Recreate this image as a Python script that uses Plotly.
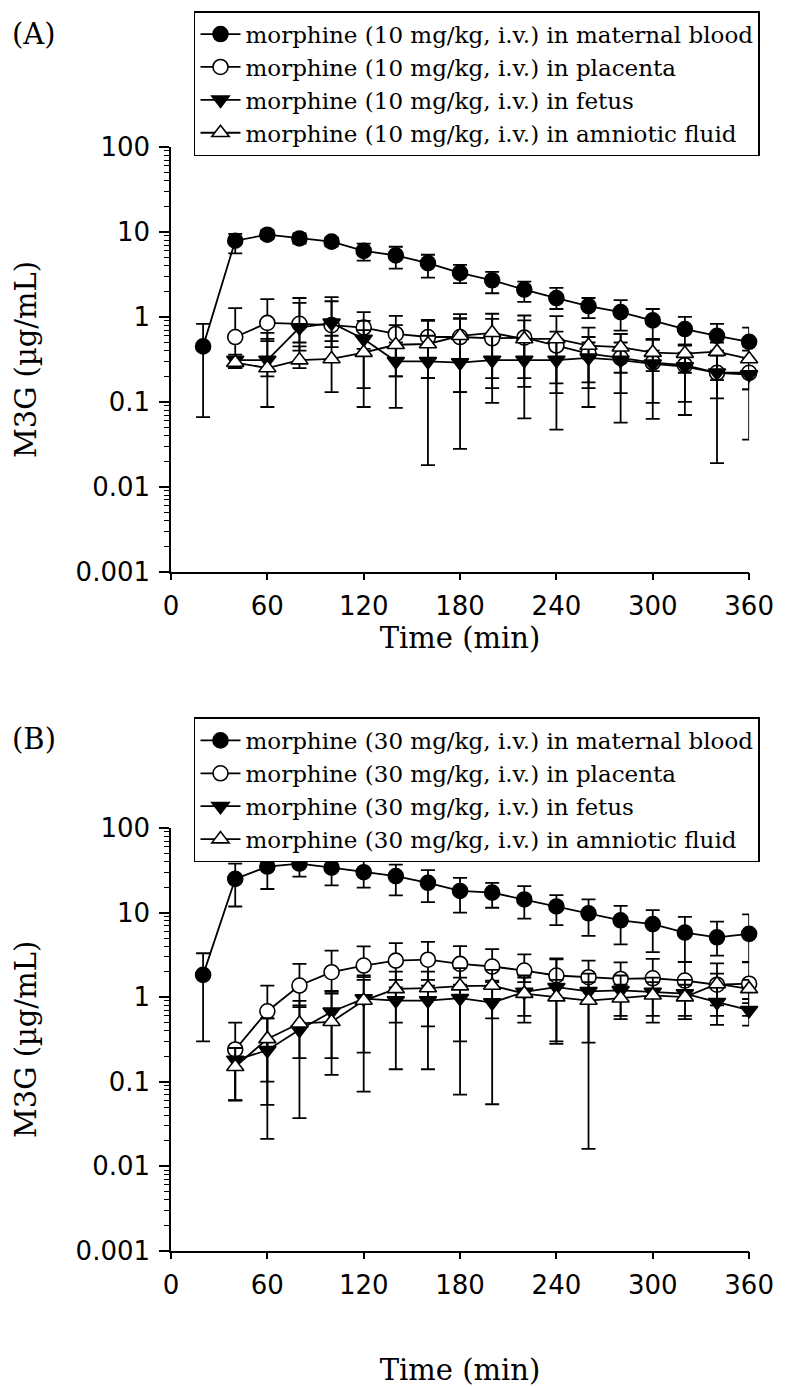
import plotly.graph_objects as go

# ---------------- data ----------------
t_mat = [20, 40, 60, 80, 100, 120, 140, 160, 180, 200, 220, 240, 260, 280, 300, 320, 340, 360]
t_oth = [40, 60, 80, 100, 120, 140, 160, 180, 200, 220, 240, 260, 280, 300, 320, 340, 360]

x_ticks = [0, 60, 120, 180, 240, 300, 360]
y_ticks = [0.001, 0.01, 0.1, 1, 10, 100]
y_ticktext = ["0.001", "0.01", "0.1", "1", "10", "100"]

# Panel A : 10 mg/kg  (mean, upper bar end, lower bar end)
A_mat = [0.45, 7.9, 9.3, 8.4, 7.7, 6.0, 5.3, 4.3, 3.3, 2.7, 2.1, 1.67, 1.34, 1.14, 0.91, 0.72, 0.60, 0.51]
A_mat_up = [0.83, 9.5, 10.5, 9.6, 8.6, 7.3, 6.7, 5.4, 4.1, 3.4, 2.6, 2.2, 1.67, 1.58, 1.24, 1.0, 0.83, 0.75]
A_mat_lo = [0.066, 5.6, 8.3, 7.3, 6.8, 4.6, 3.7, 2.9, 2.5, 1.9, 1.5, 1.24, 0.97, 0.69, 0.55, 0.46, 0.38, 0.33]

A_pla = [0.58, 0.85, 0.83, 0.80, 0.75, 0.63, 0.58, 0.58, 0.56, 0.57, 0.46, 0.37, 0.33, 0.29, 0.27, 0.22, 0.22]
A_pla_up = [1.27, 1.62, 1.67, 1.71, 1.14, 1.03, 0.92, 1.08, 0.95, 0.91, 0.67, 0.58, 0.63, 0.54, 0.47, 0.40, 0.40]
A_pla_lo = [0.26, 0.52, 0.50, 0.44, 0.42, 0.20, 0.19, 0.13, 0.145, 0.15, 0.165, 0.145, 0.127, 0.097, 0.10, 0.11, 0.14]

A_fet = [0.31, 0.31, 0.75, 0.85, 0.55, 0.30, 0.30, 0.29, 0.31, 0.31, 0.31, 0.33, 0.31, 0.28, 0.26, 0.22, 0.21]
A_fet_up = [0.36, 0.65, 1.46, 1.53, 0.90, 0.50, 0.60, 0.97, 0.60, 0.55, 0.55, 0.50, 0.50, 0.40, 0.38, 0.35, 0.30]
A_fet_lo = [0.25, 0.20, 0.40, 0.52, 0.087, 0.085, 0.018, 0.028, 0.097, 0.064, 0.047, 0.087, 0.057, 0.063, 0.07, 0.019, 0.036]

A_amn = [0.29, 0.25, 0.31, 0.32, 0.38, 0.47, 0.48, 0.60, 0.65, 0.55, 0.55, 0.46, 0.44, 0.38, 0.37, 0.39, 0.32]
A_amn_up = [0.33, 0.55, 0.45, 0.60, 0.70, 0.80, 0.90, 0.95, 1.09, 1.04, 1.02, 0.75, 0.63, 0.54, 0.47, 0.50, 0.45]
A_amn_lo = [0.25, 0.087, 0.25, 0.13, 0.145, 0.20, 0.19, 0.13, 0.19, 0.19, 0.127, 0.17, 0.22, 0.23, 0.22, 0.18, 0.14]

# Panel B : 30 mg/kg
B_mat = [1.83, 25, 35, 38, 34, 30, 27, 22.5, 18, 17.2, 14.3, 11.8, 9.8, 8.1, 7.3, 5.8, 5.1, 5.6]
B_mat_up = [3.3, 38, 50, 47, 46.5, 40.5, 37, 31.7, 25.7, 22.5, 20.6, 16.1, 14.3, 12, 10.7, 8.9, 7.8, 9.5]
B_mat_lo = [0.30, 11.8, 19, 26.6, 21, 19.7, 16, 13.3, 10, 11.4, 8.5, 7.1, 5.3, 4.2, 3.4, 2.6, 3.1, 2.6]

B_pla = [0.24, 0.68, 1.37, 1.97, 2.36, 2.7, 2.77, 2.47, 2.3, 2.06, 1.8, 1.72, 1.64, 1.67, 1.57, 1.4, 1.44]
B_pla_up = [0.50, 1.37, 2.47, 3.54, 3.98, 4.36, 4.5, 4.0, 3.7, 3.2, 2.87, 2.7, 2.58, 2.83, 2.6, 2.5, 2.58]
B_pla_lo = [0.06, 0.021, 0.76, 1.15, 1.72, 1.3, 1.37, 1.4, 1.57, 1.5, 1.3, 0.9, 0.9, 1.0, 1.0, 0.8, 0.85]

B_fet = [0.18, 0.235, 0.41, 0.67, 0.96, 0.91, 0.91, 0.97, 0.86, 1.15, 1.31, 1.17, 1.2, 1.15, 1.1, 0.87, 0.70]
B_fet_up = [0.25, 0.56, 0.80, 1.18, 1.80, 1.6, 1.6, 1.7, 1.5, 1.7, 2.8, 1.9, 1.8, 1.7, 1.6, 1.3, 0.95]
B_fet_lo = [0.06, 0.053, 0.037, 0.12, 0.076, 0.14, 0.14, 0.07, 0.054, 0.6, 0.28, 0.016, 0.6, 0.6, 0.6, 0.47, 0.46]

B_amn = [0.15, 0.32, 0.49, 0.51, 0.91, 1.25, 1.28, 1.35, 1.37, 1.1, 1.0, 0.91, 0.97, 1.05, 1.0, 1.43, 1.25]
B_amn_up = [0.25, 0.56, 0.9, 1.1, 1.6, 2.0, 2.0, 2.2, 2.1, 1.8, 1.6, 1.5, 1.4, 1.5, 1.4, 1.9, 1.6]
B_amn_lo = [0.06, 0.1, 0.19, 0.19, 0.22, 0.5, 0.45, 0.3, 0.56, 0.5, 0.3, 0.29, 0.55, 0.5, 0.55, 0.6, 0.6]

series_names = ["maternal blood", "placenta", "fetus", "amniotic fluid"]
# ---------------------------------------

W, H = 800, 1387
SERIF = "DejaVu Serif, Liberation Serif, serif"
SANS = "DejaVu Sans, Liberation Sans, sans-serif"

styles = [
    dict(symbol="circle", color="black", size=15),
    dict(symbol="circle", color="white", size=15),
    dict(symbol="triangle-down", color="black", size=15),
    dict(symbol="triangle-up", color="white", size=15),
]

fig = go.Figure()

def add_panel(dose, data, xa, ya, legend):
    for i, (t, m, up, lo) in enumerate(data):
        st = styles[i]
        fig.add_trace(go.Scatter(
            x=t, y=m, mode="lines+markers",
            name=f"morphine ({dose} mg/kg, i.v.) in {series_names[i]}",
            xaxis=xa, yaxis=ya, legend=legend,
            line=dict(color="black", width=1.8),
            marker=dict(symbol=st["symbol"], size=st["size"], color=st["color"],
                        line=dict(color="black", width=1.6)),
            error_y=dict(type="data", symmetric=False,
                         array=[u - v for u, v in zip(up, m)],
                         arrayminus=[v - l for v, l in zip(m, lo)],
                         color="black", thickness=1.8, width=7),
            cliponaxis=False,
        ))

add_panel(10, [(t_mat, A_mat, A_mat_up, A_mat_lo), (t_oth, A_pla, A_pla_up, A_pla_lo),
               (t_oth, A_fet, A_fet_up, A_fet_lo), (t_oth, A_amn, A_amn_up, A_amn_lo)],
          "x", "y", "legend")
add_panel(30, [(t_mat, B_mat, B_mat_up, B_mat_lo), (t_oth, B_pla, B_pla_up, B_pla_lo),
               (t_oth, B_fet, B_fet_up, B_fet_lo), (t_oth, B_amn, B_amn_up, B_amn_lo)],
          "x2", "y2", "legend2")

x_dom = [170 / W, 773 / W]
yA = [1 - 569 / H, 1 - 135 / H]
yB = [1 - 1263 / H, 1 - 831 / H]

minor_vals = [k * 10 ** e for e in range(-3, 2) for k in range(2, 10)]

def xaxis_cfg(anchor, dom, standoff):
    return dict(domain=dom, anchor=anchor, range=[0, 360], tickvals=x_ticks,
                showline=True, linecolor="black", linewidth=1.5, mirror=False,
                ticks="outside", ticklen=7, tickwidth=1.5, tickcolor="black",
                showgrid=False, zeroline=False, ticklabelstandoff=3,
                tickfont=dict(family=SANS, size=26, color="black"),
                title=dict(text="Time (min)", font=dict(family=SERIF, size=29, color="black"),
                           standoff=standoff))

def yaxis_cfg(anchor, dom):
    return dict(domain=dom, anchor=anchor, type="log", range=[-3, 2],
                tickvals=y_ticks, ticktext=y_ticktext,
                showline=True, linecolor="black", linewidth=1.5, mirror=False,
                ticks="outside", ticklen=10, tickwidth=1.5, tickcolor="black",
                showgrid=False, zeroline=False, ticklabelstandoff=4,
                minor=dict(tickvals=minor_vals, ticks="outside", ticklen=5,
                           tickwidth=1, tickcolor="black", showgrid=False),
                tickfont=dict(family=SANS, size=26, color="black"),
                title=dict(text="M3G (µg/mL)", font=dict(family=SERIF, size=29, color="black"),
                           standoff=30))

legend_common = dict(xanchor="left", yanchor="top", bgcolor="white",
                     bordercolor="black", borderwidth=1.5,
                     font=dict(family=SERIF, size=23, color="black"),
                     itemwidth=40, tracegroupgap=0)

fig.update_layout(
    width=W, height=H, autosize=False,
    margin=dict(l=0, r=0, t=0, b=0),
    paper_bgcolor="white", plot_bgcolor="white",
    showlegend=True,
    xaxis=xaxis_cfg("y", x_dom, 0), yaxis=yaxis_cfg("x", yA),
    xaxis2=xaxis_cfg("y2", x_dom, 62), yaxis2=yaxis_cfg("x2", yB),
    legend=dict(x=194 / W, y=1 + 4 / H, **legend_common),
    legend2=dict(x=194 / W, y=1 - 718 / H, **legend_common),
    annotations=[
        dict(text="(A)", x=2 / W, y=1 - 19 / H, xref="paper", yref="paper",
             xanchor="left", yanchor="middle", showarrow=False,
             font=dict(family=SERIF, size=29, color="black")),
        dict(text="(B)", x=2 / W, y=1 - 740 / H, xref="paper", yref="paper",
             xanchor="left", yanchor="middle", showarrow=False,
             font=dict(family=SERIF, size=29, color="black")),
    ],
)

fig.write_html("out.html", config={"displayModeBar": False},
               post_script="document.body.style.margin='0';document.documentElement.style.overflow='hidden';")
